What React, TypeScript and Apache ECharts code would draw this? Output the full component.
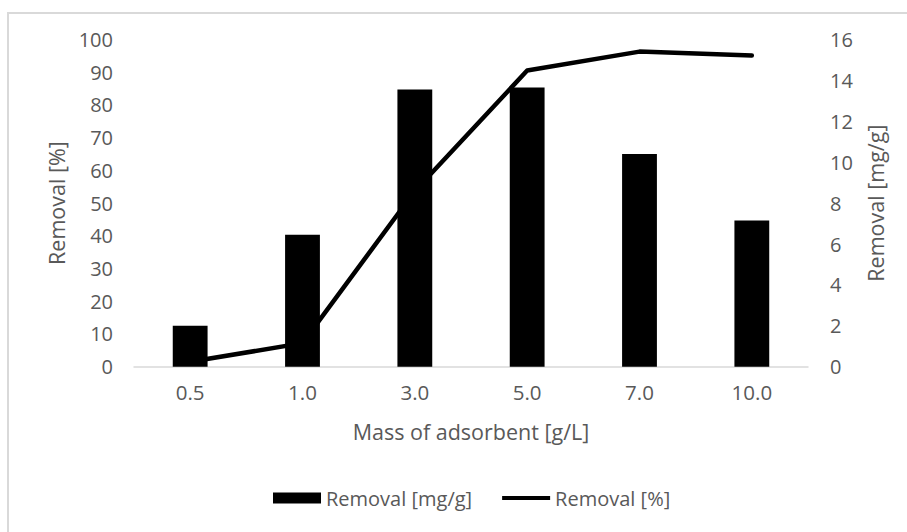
import React, { useEffect, useRef } from "react";
import * as echarts from "echarts";

const categories = ["0.5", "1.0", "3.0", "5.0", "7.0", "10.0"];
const removalMgG = [2.0, 6.45, 13.55, 13.65, 10.4, 7.15];
const removalPct = [1.5, 7.2, 53.7, 90.5, 96.3, 95.1];
const leftTicks = { min: 0, max: 100, interval: 10 };
const rightTicks = { min: 0, max: 16, interval: 2 };

const FONT = "Open Sans";
const GRAY = "#595959";

export default function App() {
  const ref = useRef<HTMLDivElement>(null);
  useEffect(() => {
    if (!ref.current) return;
    const chart = echarts.init(ref.current, undefined, { renderer: "svg" });
    chart.setOption({
      animation: false,
      backgroundColor: "#ffffff",
      textStyle: { fontFamily: FONT, color: GRAY },
      graphic: [
        {
          type: "rect",
          shape: { x: 8, y: 13, width: 920, height: 540 },
          style: { fill: "none", stroke: "#d9d9d9", lineWidth: 2 },
          silent: true,
        },
      ],
      grid: { left: 134, right: 99, top: 39.5, bottom: 165.3, containLabel: false },
      legend: {
        left: 268,
        top: 483,
        itemWidth: 48,
        itemHeight: 11,
        itemGap: 30,
        symbolKeepAspect: true,
        textStyle: { fontFamily: FONT, color: GRAY, fontSize: 20 },
        data: [
          { name: "Removal [mg/g]", icon: "rect" },
          { name: "Removal [%]", icon: "path://M0,0H52V4.5H0Z" },
        ],
      },
      xAxis: {
        type: "category",
        data: categories,
        name: "Mass of adsorbent [g/L]",
        nameLocation: "middle",
        nameGap: 54,
        nameTextStyle: { fontFamily: FONT, color: GRAY, fontSize: 21.5 },
        axisLine: { lineStyle: { color: "#d9d9d9", width: 1.5 } },
        axisTick: { show: false },
        axisLabel: { fontFamily: FONT, color: GRAY, fontSize: 20.5, margin: 15 },
      },
      yAxis: [
        {
          type: "value",
          ...leftTicks,
          name: "Removal [%]",
          nameLocation: "middle",
          nameGap: 60,
          nameTextStyle: { fontFamily: FONT, color: GRAY, fontSize: 21.5 },
          axisLine: { show: false },
          axisTick: { show: false },
          splitLine: { show: false },
          axisLabel: { fontFamily: FONT, color: GRAY, fontSize: 20, margin: 21 },
        },
        {
          type: "value",
          position: "right",
          ...rightTicks,
          name: "Removal [mg/g]",
          nameLocation: "middle",
          nameGap: 56,
          nameTextStyle: { fontFamily: FONT, color: GRAY, fontSize: 21.5 },
          axisLine: { show: false },
          axisTick: { show: false },
          splitLine: { show: false },
          axisLabel: { fontFamily: FONT, color: GRAY, fontSize: 20, margin: 22 },
        },
      ],
      series: [
        {
          name: "Removal [mg/g]",
          type: "bar",
          yAxisIndex: 1,
          data: removalMgG,
          barWidth: "31%",
          itemStyle: { color: "#000000" },
        },
        {
          name: "Removal [%]",
          type: "line",
          yAxisIndex: 0,
          data: removalPct,
          symbol: "none",
          lineStyle: { color: "#000000", width: 4.5, cap: "round", join: "round" },
          itemStyle: { color: "#000000" },
        },
      ],
    });
    return () => chart.dispose();
  }, []);
  return (
    <div
      ref={ref}
      style={{ position: "fixed", left: 0, top: 0, width: 907, height: 532 }}
    />
  );
}
